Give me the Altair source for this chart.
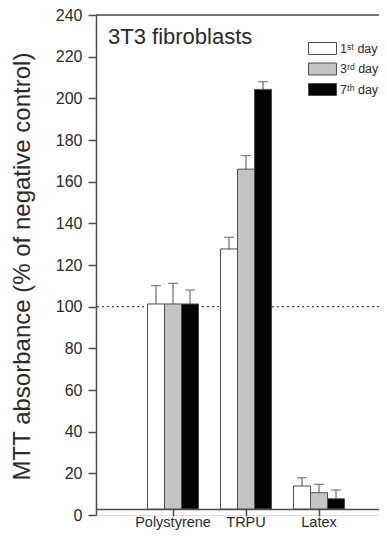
import altair as alt
import pandas as pd

materials = ["Polystyrene", "TRPU", "Latex"]
days = ["1ˢᵗ day", "3ʳᵈ day", "7ᵗʰ day"]
day1 = [101.3, 127.7, 13.9]
day3 = [101.3, 166.0, 10.7]
day7 = [101.3, 204.3, 7.8]
err1 = [8.8, 5.6, 4.0]
err3 = [9.9, 6.5, 4.0]
err7 = [6.7, 3.7, 4.2]
y_ticks = list(range(0, 241, 10))
ref_level = 100
top_level = 240
bar_base = 2.9

rows = []
for i, m in enumerate(materials):
    for d, vals, errs in zip(days, [day1, day3, day7], [err1, err3, err7]):
        rows.append({"material": m, "day": d, "value": vals[i], "err": errs[i]})
df = pd.DataFrame(rows)

FONT = "Liberation Sans"
TXT = "#2a2a2a"
AX = "#4d4d4d"

x_enc = alt.X(
    "material:N",
    sort=materials,
    scale=alt.Scale(domain=materials, paddingInner=0.301, paddingOuter=0.589, align=0.599),
    axis=alt.Axis(
        title=None, labelAngle=0, offset=-6, tickSize=7, tickWidth=1.5, tickColor=AX,
        domainColor=AX, domainWidth=1.5, labelFont=FONT, labelFontSize=14.5,
        labelColor=TXT, labelPadding=-1,
    ),
)
xo_enc = alt.XOffset("day:N", sort=days, scale=alt.Scale(domain=days))
y_scale = alt.Scale(domain=[0, 240], nice=False, zero=True)

base = alt.Chart(df)

bars = base.mark_bar(stroke=AX, strokeWidth=1).encode(
    x=x_enc,
    xOffset=xo_enc,
    y=alt.Y(
        "value:Q",
        scale=y_scale,
        axis=alt.Axis(
            values=y_ticks,
            labelExpr="datum.value % 20 === 0 ? datum.label : ''",
            tickSize={"condition": {"test": "datum.value % 20 === 0", "value": 8}, "value": 4},
            tickWidth=1.5, tickColor=AX, domainColor=AX, domainWidth=1.5,
            grid=False, labelFont=FONT, labelFontSize=16, labelColor=TXT, labelPadding=6,
            title="MTT absorbance (% of negative control)", titleFont=FONT,
            titleFontSize=24, titleFontWeight="normal", titleColor=TXT,
            titleX=-67, titleY=251, titleBaseline="alphabetic",
        ),
    ),
    y2=alt.datum(bar_base),
    fill=alt.Fill(
        "day:N",
        sort=days,
        scale=alt.Scale(domain=days, range=["#ffffff", "#c4c4c4", "#050505"]),
        legend=alt.Legend(
            title=None, orient="none", legendX=220, legendY=27,
            symbolType="M-2.33,-1H2.33V1H-2.33Z", symbolSize=144,
            symbolStrokeColor=AX, symbolStrokeWidth=1, symbolOpacity=1,
            labelOffset=11, rowPadding=3.5, padding=0,
            labelFont=FONT, labelFontSize=12.5, labelColor=TXT,
        ),
    ),
)

err_lines = base.transform_calculate(top="datum.value + datum.err").mark_rule(
    color=AX, strokeWidth=1
).encode(x=x_enc, xOffset=xo_enc, y=alt.Y("value:Q", scale=y_scale), y2="top:Q")

err_caps = base.transform_calculate(top="datum.value + datum.err").mark_tick(
    color=AX, thickness=1.2, size=10
).encode(x=x_enc, xOffset=xo_enc, y=alt.Y("top:Q", scale=y_scale))

ref_rule = alt.Chart(pd.DataFrame({"v": [ref_level]})).mark_rule(
    color="#444444", strokeDash=[2, 3], strokeWidth=1.3
).encode(y=alt.Y("v:Q", scale=y_scale))

top_rule = alt.Chart(pd.DataFrame({"v": [top_level]})).mark_rule(
    color=AX, strokeWidth=1.5
).encode(y=alt.Y("v:Q", scale=y_scale))

chart = (
    alt.layer(ref_rule, bars, err_lines, err_caps, top_rule)
    .properties(
        width=283,
        height=500,
        autosize=alt.AutoSizeParams(type="none"),
        padding={"left": 88, "top": 7, "right": 0, "bottom": 16},
        title=alt.TitleParams(
            "3T3 fibroblasts", anchor="start", frame="group", orient="top",
            offset=0, dx=12, dy=59, fontSize=22, fontWeight="normal",
            font=FONT, color=TXT, baseline="alphabetic",
        ),
    )
    .configure_view(stroke=None)
    .configure(background="white")
)

chart.save("out.html", embed_options={"renderer": "svg", "actions": False})
